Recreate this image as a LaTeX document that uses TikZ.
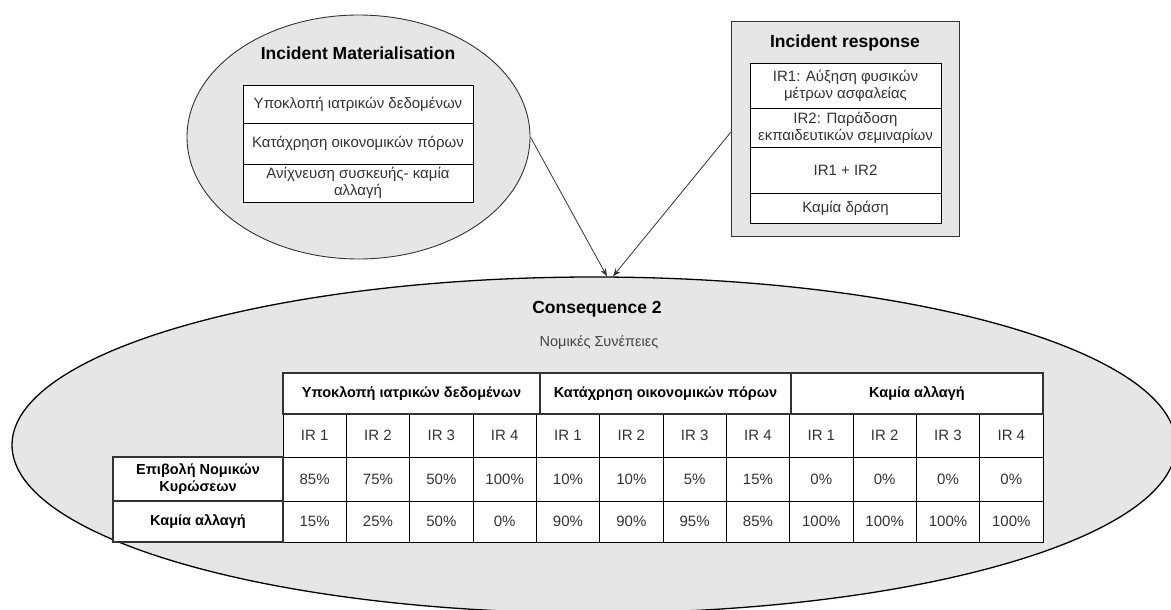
\documentclass[tikz,border=0pt]{standalone}
\usepackage{fontspec}
\setmainfont{Liberation Sans}
\usetikzlibrary{shapes.geometric,arrows.meta}
\definecolor{panel}{HTML}{E6E6E6}
\definecolor{ink}{HTML}{333333}
\definecolor{soft}{HTML}{444444}
\begin{document}
\begin{tikzpicture}[x=1pt,y=-1pt,
  heading/.style={font=\fontsize{17.5}{20}\selectfont\bfseries, inner sep=0pt},
  plain/.style={font=\fontsize{15}{17}\selectfont, text=ink, align=center},
  box/.style={draw=black, line width=0.8pt, fill=white, inner sep=0pt, align=center,
              font=\fontsize{15}{17}\selectfont, text=ink},
  thick box/.style={draw=ink, line width=2pt, fill=white, inner sep=0pt, align=center,
              font=\fontsize{14.5}{17}\selectfont\bfseries},
  connector/.style={draw=ink, line width=0.8pt, -{Stealth[length=8pt,width=6pt]}}]
\useasboundingbox (0,0) rectangle (1171,610);

% ---- consequence ellipse ----
\node[ellipse, draw=black, line width=1.3pt, fill=panel, minimum width=1164, minimum height=336,
      inner sep=0pt] (cons) at (594,445) {};
\node[heading] (constitle) at (597,309) {Consequence 2};
\node[plain, text=soft, font=\fontsize{14.5}{17}\selectfont] (conssub) at (599,342) {Νομικές Συνέπειες};

% ---- incident materialisation ----
\node[ellipse, draw=ink, line width=0.9pt, fill=panel, minimum width=343, minimum height=244,
      inner sep=0pt] (im) at (358.5,137) {};
\node[heading] (imtitle) at (358,53) {Incident Materialisation};
\node[box, minimum width=230, minimum height=38] (im1) at (358,104) {Υποκλοπή ιατρικών δεδομένων};
\node[box, minimum width=230, minimum height=41] (im2) at (358,143.5) {Κατάχρηση οικονομικών πόρων};
\node[box, minimum width=230, minimum height=38] (im3) at (358,183) {Ανίχνευση συσκευής- καμία\\αλλαγή};

% ---- incident response ----
\node[draw=ink, line width=0.9pt, fill=panel, minimum width=228, minimum height=215,
      inner sep=0pt] (ir) at (845,128.5) {};
\node[heading] (irtitle) at (845,43) {Incident response};
\node[box, minimum width=191, minimum height=45] (ir1) at (845.5,85.5) {IR1: Αύξηση φυσικών\\μέτρων ασφαλείας};
\node[box, minimum width=191, minimum height=39] (ir2) at (845.5,127.5) {IR2: Παράδοση\\εκπαιδευτικών σεμιναρίων};
\node[box, minimum width=191, minimum height=46] (ir3) at (845.5,170) {IR1 + IR2};
\node[box, minimum width=191, minimum height=30] (ir4) at (845.5,208) {Καμία δράση};

% ---- connectors ----
\draw[connector] (im.east) -- ([xshift=13pt]cons.north);
\draw[connector] ([yshift=-4pt]ir.west) -- ([xshift=19pt]cons.north);

% ---- outcome table ----
\foreach \col in {1,...,12}{
  \pgfmathtruncatemacro{\k}{mod(\col-1,4)+1}
  \node[box, minimum width=63.33, minimum height=43] (h\col) at ({283+(\col-0.5)*63.333},435.5) {IR \k};
}
\foreach \v [count=\col] in {85,75,50,100,10,10,5,15,0,0,0,0}
  \node[box, minimum width=63.33, minimum height=44] (a\col) at ({283+(\col-0.5)*63.333},479) {\v\%};
\foreach \v [count=\col] in {15,25,50,0,90,90,95,85,100,100,100,100}
  \node[box, minimum width=63.33, minimum height=41] (b\col) at ({283+(\col-0.5)*63.333},521.5) {\v\%};

\node[thick box, minimum width=257, minimum height=41] (g1) at (411.5,393.5) {Υποκλοπή ιατρικών δεδομένων};
\node[thick box, minimum width=251, minimum height=41] (g2) at (665.5,393.5) {Κατάχρηση οικονομικών πόρων};
\node[thick box, minimum width=252, minimum height=41] (g3) at (917,393.5) {Καμία αλλαγή};
\node[thick box, minimum width=170, minimum height=44] (r1) at (198,479) {Επιβολή Νομικών\\Κυρώσεων};
\node[thick box, minimum width=170, minimum height=41] (r2) at (198,521.5) {Καμία αλλαγή};
\end{tikzpicture}
\end{document}
